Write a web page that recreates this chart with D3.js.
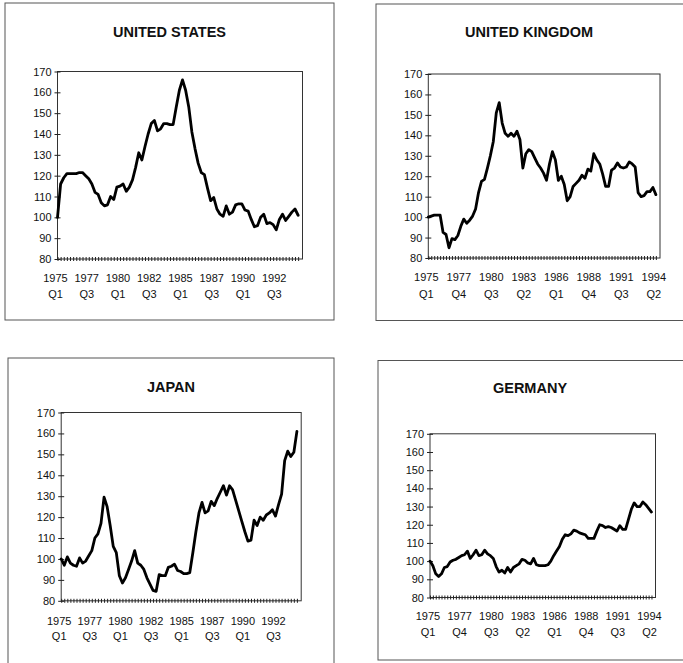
<!DOCTYPE html>
<html>
<head>
<meta charset="utf-8">
<script src="https://d3js.org/d3.v7.min.js"></script>
<style>
body { margin: 0; background: #fff; }
text { font-family: Arial, "Liberation Sans", sans-serif; fill: #111; }
</style>
</head>
<body>
<div id="chart"></div>
<script>
// Quarterly index, 1975 Q1 = 100
const quarters = [];
for (let yr = 1975; yr <= 1994; yr++) {
  for (let q = 1; q <= 4; q++) {
    if (yr === 1994 && q > 2) break;
    quarters.push(yr + " Q" + q);
  }
}

const usValues = [100,116,119,121,121,121,121,121.5,121.5,120,
  118.5,116,112,111,107,105.5,106,110,108.5,114.5,
  115,116,112.5,114.5,118,124,131,127.5,134,140,
  145,146.5,141.5,142.5,145,145,144.5,144.5,153,161,
  166,161,153,141,133,126,121.5,120.5,114,108,
  109.5,104,101.5,100.5,105.5,101.5,102.5,106,106.5,106.5,
  103.5,103,99,95.5,96,100,101.5,97,97.5,96.5,
  94,99,101.5,98.5,100.5,102.5,104,101];

const ukValues = [100,100.5,101,101,101,92.5,91.5,85,89.5,89,
  91,95.5,99,97,98.5,100.5,104,112,117.5,118.5,
  124,130,137,151,156,146,141,139.5,141,139.5,
  142,138,124,131,133,132,129,126,124,121.5,
  118,126,132,128,118,120,116,108,110,115,
  116.5,118,120.5,119,123.5,122.5,131,128,126,121,
  115,115,123,124,126.5,124.5,124,124.5,127,126,
  124.5,112,110,110.5,112.5,112.5,114.5,111];

const japanValues = [100,97,101,98,97,96.5,100.5,98,99,101.5,
  104,110,112,117,129.5,125,116,106,103,92,
  88.5,91,95,99,104,98,97,95,91,88,
  85,84.5,92.5,92,92,96,96.5,97.5,94.5,94,
  93,93,93.5,103,113,122,127,122,123,127.5,
  125.5,129,132,135,130.5,135,133,128,123,118,
  113,108.5,109,118.5,116,120,118.5,121,122,123.5,
  120.5,126,131,147,151.5,149,151,161];

const germanyValues = [100,97.5,93,91.5,93,96.5,97,99.5,100.5,101,
  102,103,103.5,105.5,101.5,103.5,106,103,103.5,106,
  104,103,101.5,97,94,95,93.5,96.5,94,96.5,
  97.5,98.5,101,100.5,99,98.5,101.5,98,97.5,97.5,
  97.5,98,100,103,105.5,108,112,114.5,114,115,
  117,116.5,115.5,115,114.5,112.5,112.5,112.5,116.5,120,
  119.5,118.5,119,118.5,117.5,116.5,119.5,117.5,117.5,123,
  128.5,132,130,130,132.5,131,129,127];

const yTicks = [80, 90, 100, 110, 120, 130, 140, 150, 160, 170];
const labelsEvery10 = ["1975 Q1","1977 Q3","1980 Q1","1982 Q3","1985 Q1","1987 Q3","1990 Q1","1992 Q3"];
const labelsEvery11 = ["1975 Q1","1977 Q4","1980 Q3","1983 Q2","1986 Q1","1988 Q4","1991 Q3","1994 Q2"];

const width = 683, height = 663;
const svg = d3.select("#chart").append("svg")
    .attr("width", width)
    .attr("height", height);

const panels = [
  {title: "UNITED STATES", values: usValues, labels: labelsEvery10,
   frame: [5, 3, 334, 320], titleY: 37,
   plot: {left: 57.5, right: 302.5, top: 71.5, bottom: 259}, yearY: 281.5, qY: 298},
  {title: "UNITED KINGDOM", values: ukValues, labels: labelsEvery11,
   frame: [376, 4, 690, 320.5], titleY: 36.5,
   plot: {left: 428.3, right: 660, top: 74, bottom: 258}, yearY: 280.5, qY: 297.5},
  {title: "JAPAN", values: japanValues, labels: labelsEvery10,
   frame: [8, 358, 334, 670], titleY: 391.5,
   plot: {left: 61.2, right: 301.2, top: 412.5, bottom: 600.8}, yearY: 625, qY: 640},
  {title: "GERMANY", values: germanyValues, labels: labelsEvery11,
   frame: [378, 360.5, 690, 660], titleY: 393,
   plot: {left: 430, right: 655.5, top: 433.8, bottom: 597.5}, yearY: 620, qY: 636}
];

panels.forEach(p => {
  const g = svg.append("g");
  const [fx0, fy0, fx1, fy1] = p.frame;

  // outer frame
  g.append("rect")
      .attr("x", fx0).attr("y", fy0)
      .attr("width", fx1 - fx0).attr("height", fy1 - fy0)
      .attr("fill", "none")
      .attr("stroke", "#555")
      .attr("stroke-width", 1);

  g.append("text")
      .attr("x", (fx0 + Math.min(fx1, 690)) / 2 - (fx1 > 683 ? 4 : 0))
      .attr("y", p.titleY)
      .attr("text-anchor", "middle")
      .attr("font-size", 14.5)
      .attr("font-weight", "bold")
      .text(p.title);

  const x = d3.scaleLinear()
      .domain([0, 78.4])
      .range([p.plot.left, p.plot.right]);
  const y = d3.scaleLinear()
      .domain([80, 170])
      .range([p.plot.bottom, p.plot.top]);

  // plot border
  g.append("rect")
      .attr("x", p.plot.left).attr("y", p.plot.top)
      .attr("width", p.plot.right - p.plot.left)
      .attr("height", p.plot.bottom - p.plot.top)
      .attr("fill", "none")
      .attr("stroke", "#333")
      .attr("stroke-width", 1);

  // y axis, ticks crossing the axis line
  g.append("g")
      .attr("transform", "translate(" + (p.plot.left + 3) + ",0)")
      .call(d3.axisLeft(y).tickValues(yTicks).tickSize(6).tickPadding(3))
      .call(a => a.select(".domain").remove())
      .call(a => a.selectAll("text").attr("font-size", 11).attr("fill", "#111"))
      .call(a => a.selectAll("line").attr("stroke", "#222"));

  // x axis, one small tick for every quarter
  g.append("g")
      .attr("transform", "translate(0," + (p.plot.bottom - 2) + ")")
      .call(d3.axisBottom(x).tickValues(d3.range(quarters.length)).tickSize(4).tickFormat(""))
      .call(a => a.select(".domain").remove())
      .call(a => a.selectAll("line").attr("stroke", "#222"));

  // two-line category labels
  const lab = g.append("g").selectAll("text")
      .data(p.labels)
      .enter().append("text")
      .attr("text-anchor", "middle")
      .attr("font-size", 11);
  lab.append("tspan")
      .attr("x", d => x(quarters.indexOf(d)) - 2)
      .attr("y", p.yearY)
      .text(d => d.split(" ")[0]);
  lab.append("tspan")
      .attr("x", d => x(quarters.indexOf(d)) - 2)
      .attr("y", p.qY)
      .text(d => d.split(" ")[1]);

  const line = d3.line()
      .x((d, i) => x(i))
      .y(d => y(d));

  g.append("path")
      .datum(p.values)
      .attr("fill", "none")
      .attr("stroke", "#000")
      .attr("stroke-width", 2.8)
      .attr("stroke-linejoin", "round")
      .attr("stroke-linecap", "round")
      .attr("d", line);
});
</script>
</body>
</html>
